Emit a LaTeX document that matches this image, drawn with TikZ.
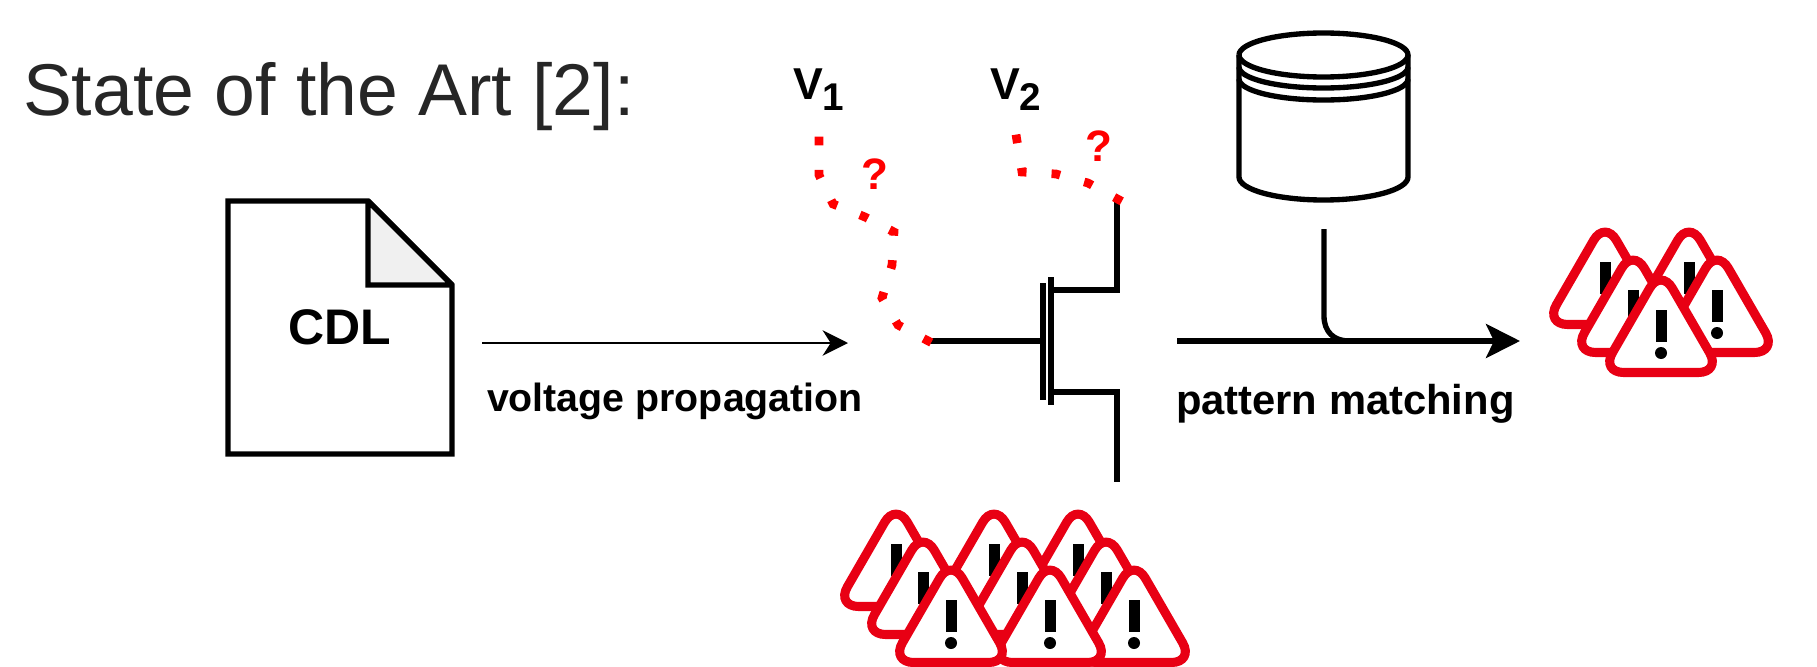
\documentclass[tikz,border=0pt]{standalone}
\usepackage{fontspec}
\setmainfont{Liberation Sans}
\usetikzlibrary{positioning, arrows.meta}
\definecolor{warnred}{RGB}{232,0,20}
\definecolor{titlegray}{RGB}{38,38,38}
\tikzset{
  x=0.75pt, y=-0.75pt, % one unit is one pixel of the reference
  wire/.style={line width=4pt, black},
  every node/.style={inner sep=0pt, outer sep=0pt},
  label/.style={font=\bfseries\fontsize{29.5pt}{32pt}\selectfont, anchor=base west},
  voltage/.style={font=\bfseries\fontsize{33.5pt}{36pt}\selectfont, anchor=base west},
  query/.style={font=\bfseries\fontsize{33pt}{36pt}\selectfont, text=red},
  reddots/.style={line width=6.5pt, red, dash pattern=on 6.5pt off #1},
  warn/.pic={
    \draw[warnred, line width=6.8pt, fill=white, rounded corners=17pt]
      (0,-8.4) -- (60,95.5) -- (-60,95.5) -- cycle;
    \fill[black] (-5.5,33) rectangle (5.5,65);
    \fill[black] (0,76) circle (6);
  },
}
\begin{document}
\begin{tikzpicture}
  \useasboundingbox (0,0) rectangle (1817,667);

  \node[anchor=base west, text=titlegray, font=\fontsize{55pt}{60pt}\selectfont] (title) at (23,115) {State of the Art [2]:};

  % file
  \draw[wire, fill=white, line join=miter] (228,201) -- (368,201) -- (452,285) -- (452,454) -- (228,454) -- cycle;
  \draw[wire, fill=black!6, line join=miter, miter limit=2] (368,201) -- (452,285) -- (368,285) -- cycle;
  \node[font=\bfseries\fontsize{37.5pt}{40pt}\selectfont] (cdl) at (340,327) {CDL};

  % propagation arrow
  \coordinate (propstart) at (482,343);
  \coordinate (propend) at (848,343);
  \draw[line width=2.2pt, -{Stealth[length=19pt, width=19pt, inset=6pt]}] (propstart) -- (propend);
  \node[label] (proplabel) at (487,411) {voltage propagation};

  % transistor
  \coordinate (gatein) at (928,341);
  \coordinate (gatein2) at (1043,341);
  \coordinate (drainend) at (1117,199);
  \coordinate (sourceend) at (1117,482);
  \draw[wire] (gatein) -- (gatein2);
  \draw[wire] (1043,283) -- (1043,400);
  \draw[wire] (1051,277) -- (1051,405);
  \draw[wire, line join=miter] (1051,290) -- (1117,290) -- (drainend);
  \draw[wire, line join=miter] (1051,392) -- (1117,392) -- (sourceend);

  % floating nodes
  \node[voltage] (v1) at (793,99) {V\raisebox{-9pt}{\fontsize{29pt}{32pt}\selectfont 1}};
  \node[voltage] (v2) at (990,99) {V\raisebox{-9pt}{\fontsize{29pt}{32pt}\selectfont 2}};
  \coordinate (va) at (819,136.6);
  \coordinate (vb) at (1016,134.6);
  \coordinate (gatetip) at (934,344);
  \coordinate (draintip) at (1123,202);
  \draw[reddots=18.4pt] (va) -- (819,175) -- (833,204) -- (865,217) -- (894,232) -- (892,265) -- (882,298) -- (898,325) -- (gatetip);
  \draw[reddots=18.8pt] (vb) -- (1022,172) -- (1056,174) -- (1088,183) -- (draintip);
  \node[query] (q1) at (875,174) {?};
  \node[query] (q2) at (1099,146) {?};

  % database
  \draw[wire, fill=white] (1239,55) -- (1239,177) arc[start angle=180, end angle=0, x radius=84.5, y radius=23] -- (1408,55);
  \draw[wire] (1239,55) arc[start angle=180, end angle=-180, x radius=84.5, y radius=22];
  \draw[wire] (1239,67) arc[start angle=180, end angle=0, x radius=84.5, y radius=21];
  \draw[wire] (1239,79) arc[start angle=180, end angle=0, x radius=84.5, y radius=21];

  % matching arrow
  \coordinate (matchstart) at (1177,341);
  \coordinate (matchend) at (1520,341);
  \coordinate (dbline) at (1324,229);
  \draw[wire, -{Stealth[length=25.5pt, width=25.5pt, inset=6pt]}] (matchstart) -- (matchend);
  \draw[wire] (dbline) -- (1324,316) .. controls (1324,332) and (1334,341) .. (1349,341);
  \node[label, font=\bfseries\fontsize{31.3pt}{34pt}\selectfont] (matchlabel) at (1176,414) {pattern matching};

  % warnings right
  \foreach \x/\y [count=\i] in {1689/229, 1605/229, 1717/257, 1633/257, 1661/277}
    \pic (warnr\i) at (\x,\y) {warn};

  % warnings below
  \foreach \x/\y [count=\i] in {1078/511, 994/511, 896/511, 1106/539, 1022/539, 923/539, 1134/567, 1050/567, 951/567}
    \pic (warnb\i) at (\x,\y) {warn};
\end{tikzpicture}
\end{document}
